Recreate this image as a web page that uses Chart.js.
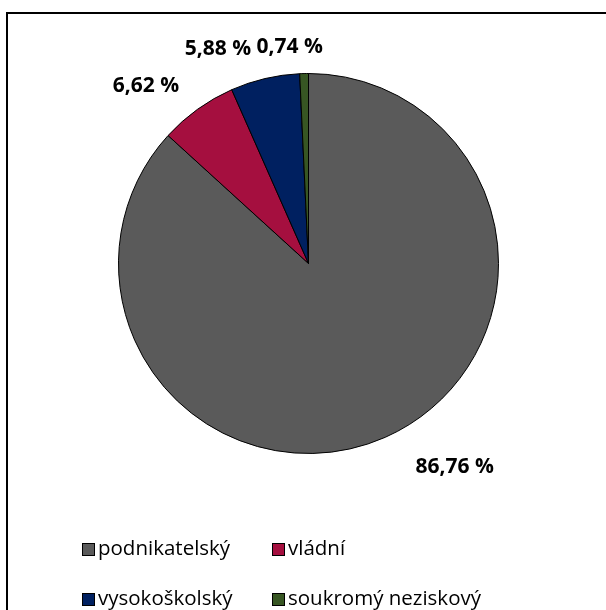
<!DOCTYPE html>
<html lang="cs">
<head>
    <meta charset="UTF-8">
    <title>Podíl sektorů</title>
    <script src="https://cdn.jsdelivr.net/npm/chart.js"></script>
    <style>
        body {
            margin: 0;
            background: #fff;
        }
        #wrap {
            width: 606px;
            height: 610px;
        }
    </style>
</head>
<body>
    <div id="wrap"><canvas id="pie" width="606" height="610"></canvas></div>

    <script>
        const sectors = ['podnikatelský', 'vládní', 'vysokoškolský', 'soukromý neziskový'];
        const shares = [86.76, 6.62, 5.88, 0.74];
        const sectorColors = ['#5a5a5a', '#a50f3f', '#002060', '#375623'];

        // Excel placed the labels a bit off the slice middle, so nudge them
        const labelNudge = [
            { angle: -11.8, dist: 1.32 },
            { angle: -6.8, dist: 1.265 },
            { angle: -9.6, dist: 1.227 },
            { angle: -3.6, dist: 1.145 },
        ];

        const frame = {
            id: 'frame',
            beforeDraw(chart) {
                const ctx = chart.ctx;
                ctx.save();
                ctx.fillStyle = '#fff';
                ctx.fillRect(0, 0, chart.width, chart.height);
                ctx.strokeStyle = '#000';
                ctx.lineWidth = 2;
                ctx.strokeRect(7, 13, 800, 800);
                ctx.restore();
            }
        };

        const outsideLabels = {
            id: 'outsideLabels',
            afterDatasetsDraw(chart) {
                const ctx = chart.ctx;
                const meta = chart.getDatasetMeta(0);
                ctx.save();
                ctx.font = 'bold 21px "Open Sans", sans-serif';
                ctx.fillStyle = '#000';
                ctx.textAlign = 'center';
                ctx.textBaseline = 'middle';
                meta.data.forEach((arc, i) => {
                    const p = arc.getProps(['x', 'y', 'startAngle', 'endAngle', 'outerRadius'], true);
                    const n = labelNudge[i];
                    const a = (p.startAngle + p.endAngle) / 2 + n.angle * Math.PI / 180;
                    const r = p.outerRadius * n.dist;
                    const txt = shares[i].toFixed(2).replace('.', ',') + ' %';
                    ctx.fillText(txt, p.x + Math.cos(a) * r, p.y + Math.sin(a) * r);
                });
                ctx.restore();
            }
        };

        // two-column legend like the Excel one
        const gridLegend = {
            id: 'gridLegend',
            afterDraw(chart) {
                const ctx = chart.ctx;
                const cols = [82, 272];
                const rows = [549, 599];
                ctx.save();
                ctx.font = '20.5px "Open Sans", sans-serif';
                ctx.textBaseline = 'middle';
                ctx.textAlign = 'left';
                sectors.forEach((name, i) => {
                    const x = cols[i % 2];
                    const y = rows[Math.floor(i / 2)];
                    ctx.fillStyle = sectorColors[i];
                    ctx.fillRect(x, y - 6, 13, 13);
                    ctx.strokeStyle = '#000';
                    ctx.lineWidth = 1;
                    ctx.strokeRect(x + 0.5, y - 5.5, 12, 12);
                    ctx.fillStyle = '#000';
                    ctx.fillText(name, x + 16, y);
                });
                ctx.restore();
            }
        };

        new Chart(document.getElementById('pie'), {
            type: 'pie',
            data: {
                labels: sectors,
                datasets: [{
                    data: shares,
                    backgroundColor: sectorColors,
                    borderColor: '#000',
                    borderWidth: 1,
                }],
            },
            options: {
                responsive: false,
                animation: false,
                layout: {
                    padding: { left: 118, right: 107, top: 73, bottom: 156 }
                },
                plugins: {
                    legend: { display: false },
                    tooltip: { enabled: false },
                },
            },
            plugins: [frame, outsideLabels, gridLegend],
        });
    </script>
</body>
</html>
